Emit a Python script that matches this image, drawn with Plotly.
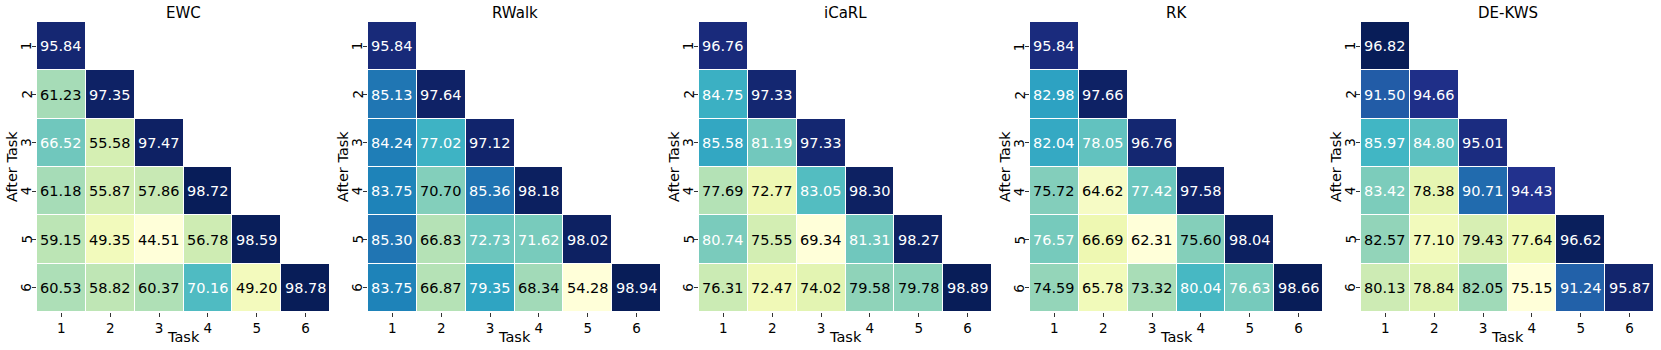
import plotly.graph_objects as go

methods = ["EWC", "RWalk", "iCaRL", "RK", "DE-KWS"]
tasks = [1, 2, 3, 4, 5, 6]

ewc = [
    [95.84],
    [61.23, 97.35],
    [66.52, 55.58, 97.47],
    [61.18, 55.87, 57.86, 98.72],
    [59.15, 49.35, 44.51, 56.78, 98.59],
    [60.53, 58.82, 60.37, 70.16, 49.20, 98.78],
]
rwalk = [
    [95.84],
    [85.13, 97.64],
    [84.24, 77.02, 97.12],
    [83.75, 70.70, 85.36, 98.18],
    [85.30, 66.83, 72.73, 71.62, 98.02],
    [83.75, 66.87, 79.35, 68.34, 54.28, 98.94],
]
icarl = [
    [96.76],
    [84.75, 97.33],
    [85.58, 81.19, 97.33],
    [77.69, 72.77, 83.05, 98.30],
    [80.74, 75.55, 69.34, 81.31, 98.27],
    [76.31, 72.47, 74.02, 79.58, 79.78, 98.89],
]
rk = [
    [95.84],
    [82.98, 97.66],
    [82.04, 78.05, 96.76],
    [75.72, 64.62, 77.42, 97.58],
    [76.57, 66.69, 62.31, 75.60, 98.04],
    [74.59, 65.78, 73.32, 80.04, 76.63, 98.66],
]
dekws = [
    [96.82],
    [91.50, 94.66],
    [85.97, 84.80, 95.01],
    [83.42, 78.38, 90.71, 94.43],
    [82.57, 77.10, 79.43, 77.64, 96.62],
    [80.13, 78.84, 82.05, 75.15, 91.24, 95.87],
]
all_data = [ewc, rwalk, icarl, rk, dekws]

ylgnbu = ["#ffffd9", "#edf8b1", "#c7e9b4", "#7fcdbb", "#41b6c4",
          "#1d91c0", "#225ea8", "#253494", "#081d58"]
colorscale = [[i / (len(ylgnbu) - 1), c] for i, c in enumerate(ylgnbu)]

W, H = 1661, 350
FONT = "DejaVu Sans"
fig = go.Figure()

x_start0, x_step, x_width = 37, 331, 293
y_top, y_bot = 22, 312

for i, (name, rows) in enumerate(zip(methods, all_data)):
    n = len(tasks)
    z = [[rows[r][c] if c <= r else None for c in range(n)] for r in range(n)]
    vals = [v for r in rows for v in r]
    vmin, vmax = min(vals), max(vals)
    xa = "x" if i == 0 else f"x{i+1}"
    ya = "y" if i == 0 else f"y{i+1}"
    fig.add_trace(go.Heatmap(
        z=z, x=tasks, y=tasks, colorscale=colorscale, zmin=vmin, zmax=vmax,
        showscale=False, xgap=1, ygap=1, xaxis=xa, yaxis=ya, hoverongaps=False,
    ))
    x0 = (x_start0 + x_step * i) / W
    x1 = (x_start0 + x_step * i + x_width) / W
    dom_y = [1 - y_bot / H, 1 - y_top / H]
    axis_common = dict(ticks="outside", ticklen=4, tickwidth=1, tickcolor="#333",
                       showgrid=False, zeroline=False, showline=False,
                       tickfont=dict(family=FONT, size=13.5, color="black"),
                       tickmode="array", tickvals=tasks, ticktext=[str(t) for t in tasks])
    fig.layout[("xaxis" if i == 0 else f"xaxis{i+1}")] = dict(
        domain=[x0, x1], anchor=ya, range=[0.5, 6.5], **axis_common)
    fig.layout[("yaxis" if i == 0 else f"yaxis{i+1}")] = dict(
        domain=dom_y, anchor=xa, range=[6.5, 0.5], showticklabels=False, **axis_common)
    for r in range(n):
        for c in range(r + 1):
            v = rows[r][c]
            norm = (v - vmin) / (vmax - vmin)
            col = "white" if norm > 0.375 else "black"
            fig.add_annotation(x=tasks[c], y=tasks[r], xref=xa, yref=ya,
                               text=f"{v:.2f}", showarrow=False,
                               font=dict(family=FONT, size=14.5, color=col))
    # y tick labels (rotated)
    for t in tasks:
        fig.add_annotation(x=(26 + x_step * i) / W, y=t, xref="paper", yref=ya,
                           text=str(t), textangle=-90, showarrow=False,
                           xanchor="center", yanchor="middle",
                           font=dict(family=FONT, size=13.5, color="black"))
    xd = xa + " domain"
    yd = ya + " domain"
    fig.add_annotation(x=0.5, y=1 - 13 / H, xref=xd, yref="paper", text=name,
                       showarrow=False, font=dict(family=FONT, size=15, color="black"),
                       yanchor="middle")
    fig.add_annotation(x=0.5, y=1 - 337 / H, xref=xd, yref="paper", text="Task",
                       showarrow=False, font=dict(family=FONT, size=14.5, color="black"),
                       yanchor="middle")
    fig.add_annotation(x=(12 + x_step * i) / W, y=0.5, xref="paper", yref=yd,
                       text="After Task", textangle=-90, showarrow=False,
                       font=dict(family=FONT, size=14.5, color="black"),
                       xanchor="center", yanchor="middle")

fig.update_layout(width=W, height=H, margin=dict(l=0, r=0, t=0, b=0),
                  paper_bgcolor="white", plot_bgcolor="white",
                  font=dict(family=FONT))
fig.write_html("out.html", config={"displayModeBar": False},
               post_script="document.body.style.margin='0';")
